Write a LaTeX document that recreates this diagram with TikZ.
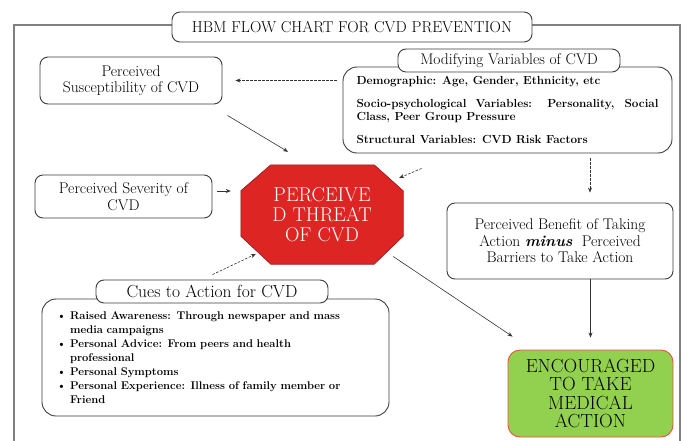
\documentclass[tikz,border=0pt]{standalone}
\usetikzlibrary{arrows.meta}

\definecolor{threatred}{RGB}{221,38,36}
\definecolor{threatline}{RGB}{150,20,20}
\definecolor{encgreen}{RGB}{146,208,80}
\definecolor{encline}{RGB}{232,82,60}
\definecolor{framegrey}{RGB}{128,128,128}
\definecolor{boxgrey}{RGB}{60,60,60}

\begin{document}
\begin{tikzpicture}[x=1pt,y=-1pt,
	box/.style={draw=boxgrey,line width=0.9pt,rounded corners=8pt,fill=white,inner sep=2pt,
		align=center,font=\fontsize{15.5}{16.5}\selectfont},
	listbox/.style={box,rounded corners=14pt,align=left,font=\bfseries\fontsize{11.7}{13.5}\selectfont},
	arr/.style={-{Stealth[length=5pt,width=4pt]},line width=0.6pt,draw=black!80},
	dasharr/.style={arr,dash pattern=on 2.5pt off 1.5pt}]
	\useasboundingbox (0,0) rectangle (688,441);
	\draw[framegrey,line width=1.5pt] (14,441) -- (14,25) -- (680,25) -- (680,441);

	\node[box,minimum width=360,minimum height=30,font=\fontsize{15.8}{17}\selectfont] (title) at (352,27) {HBM FLOW CHART FOR CVD PREVENTION};

	\node[box,minimum width=182,minimum height=47] (sus) at (131,80.5) {Perceived\\Susceptibility of CVD};
	\node[box,minimum width=177,minimum height=43] (sev) at (123.5,196.5) {Perceived Severity of\\CVD};

	\node[listbox,minimum width=329,minimum height=86] (mod) at (507.5,110)
		{Demographic: Age, Gender, Ethnicity, etc\\[9pt]
		\makebox[302pt][s]{Socio-psychological Variables: Personality, Social}\\
		Class, Peer Group Pressure\\[9pt]
		Structural Variables: CVD Risk Factors};
	\node[box,minimum width=222,minimum height=23] (modtitle) at (509,60.5) {Modifying Variables of CVD};

	% octagon drawn round an invisible node
	\node[minimum width=162,minimum height=99,inner sep=0pt] (threat) at (322,214.5) {};
	\filldraw[fill=threatred,draw=threatline,line width=0.6pt]
		([xshift=30pt]threat.north west) -- ([xshift=-29pt]threat.north east)
		-- ([yshift=-26pt]threat.north east) -- ([yshift=28pt]threat.south east)
		-- ([xshift=-29pt]threat.south east) -- ([xshift=30pt]threat.south west)
		-- ([yshift=28pt]threat.south west) -- ([yshift=-26pt]threat.north west) -- cycle;
	\node[align=center,text=white,font=\fontsize{20}{20}\selectfont] (threattext) at (threat) {PERCEIVE\\D THREAT\\OF CVD};

	\node[box,minimum width=226,minimum height=76] (ben) at (560,241)
		{Perceived Benefit of Taking\\Action \textbf{\textit{minus}}\ \ Perceived\\Barriers to Take Action};

	\node[box,draw=encline,fill=encgreen,rounded corners=12pt,minimum width=165,minimum height=87,
		font=\fontsize{19}{18.5}\selectfont] (enc) at (590.5,393.5) {ENCOURAGED\\TO TAKE\\MEDICAL\\ACTION};

	\node[listbox,minimum width=347,minimum height=117,text width=318pt,font=\bfseries\fontsize{11.2}{14}\selectfont] (cues) at (215.5,357.5)
		{\textbullet\ Raised Awareness: Through newspaper and mass\\
		\hphantom{\textbullet\ }media campaigns\\
		\textbullet\ Personal Advice: From peers and health\\
		\hphantom{\textbullet\ }professional\\
		\textbullet\ Personal Symptoms\\
		\textbullet\ Personal Experience: Illness of family member or\\
		\hphantom{\textbullet\ }Friend};
	\node[box,minimum width=232,minimum height=23,font=\fontsize{17.5}{18}\selectfont] (cuestitle) at (212,291.5) {Cues to Action for CVD};

	\draw[dasharr,shorten <=6pt,shorten >=13pt] (mod.west |- sus.east) -- (sus.east);
	\draw[arr] ([shift={(5,11)}]sus.south east) -- ([shift={(-34,-13)}]threat.north);
	\draw[arr,shorten <=5pt,shorten >=10pt] ([yshift=5.5pt]sev.east) -- ([yshift=5.5pt]sev.east -| threat.west);
	\draw[dasharr] ([shift={(79,15)}]mod.south west) -- ([shift={(-4,-36.5)}]threat.east);
	\draw[dasharr,shorten <=5pt,shorten >=10pt] ([xshift=30pt]ben.north |- mod.south) -- ([xshift=30pt]ben.north);
	\draw[arr,shorten >=12pt] (enc.north |- ben.south) -- (enc.north);
	\draw[arr] ([shift={(-10,42)}]threat.east) -- ([shift={(5,-13)}]enc.north west);
	\draw[dasharr] ([shift={(117,-5)}]cuestitle.north west) -- ([shift={(15,39.5)}]threat.west);
\end{tikzpicture}
\end{document}
